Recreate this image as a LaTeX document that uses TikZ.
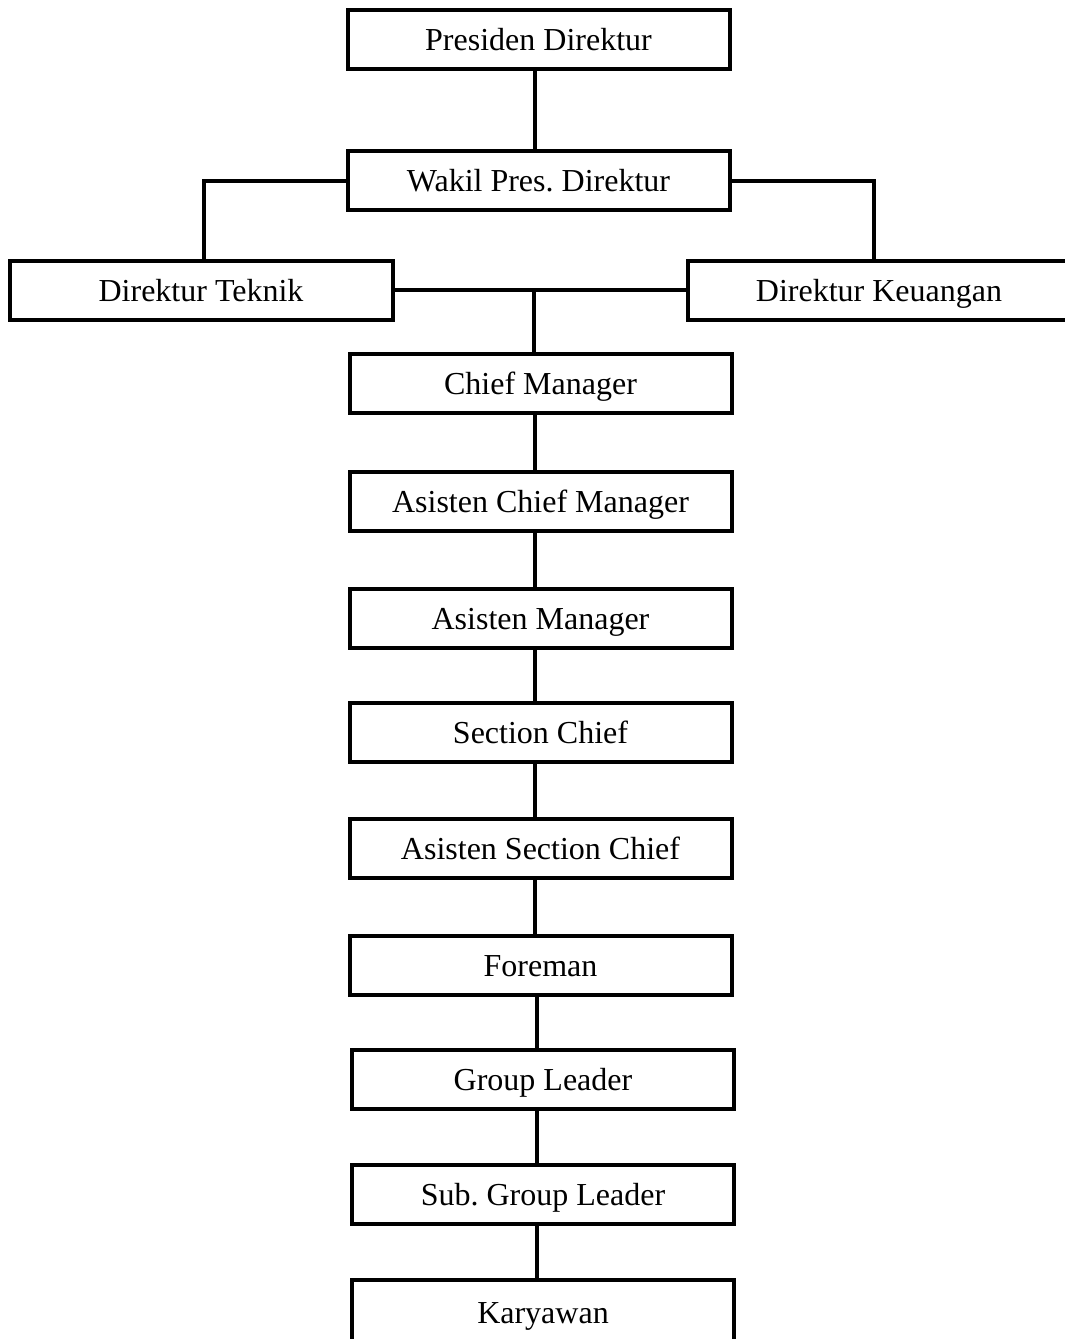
\documentclass[tikz,border=0pt]{standalone}
\usepackage{fontspec}
\setmainfont{Liberation Serif}
\frenchspacing
\begin{document}
\begin{tikzpicture}[x=1pt,y=-1pt,
  box/.style={draw=black, line width=4pt, fill=white, minimum width=382pt, minimum height=59pt, inner sep=0pt, text height=24pt, text depth=2pt, font=\fontsize{32}{38}\selectfont},
  link/.style={line width=4pt}]
\useasboundingbox (0,0) rectangle (1065,1339);
% nodes
\node[box] (pd) at (538.5,39) {Presiden Direktur};
\node[box] (wpd) at (538.5,180.5) {Wakil Pres. Direktur};
\node[box, minimum width=383pt] (dt) at (201,290) {Direktur Teknik};
\node[box, minimum width=383pt] (dk) at (879,290) {Direktur Keuangan};
\node[box] (cm) at (540.5,383.5) {Chief Manager};
\node[box] (acm) at (540.5,501.5) {Asisten Chief Manager};
\node[box] (am) at (540.5,618) {Asisten Manager};
\node[box] (sc) at (540.5,732) {Section Chief};
\node[box] (asc) at (540.5,848.5) {Asisten Section Chief};
\node[box] (fm) at (540.5,965.5) {Foreman};
\node[box] (gl) at (543,1079.5) {Group Leader};
\node[box] (sgl) at (543,1194) {Sub. Group Leader};
\node[box, minimum height=64pt, anchor=north] (kw) at (543,1278) {Karyawan};
% connectors
\draw[link] ([xshift=-3.5pt]pd.south) -- ([xshift=-3.5pt]wpd.north);
\draw[link] (wpd.west) -| ([xshift=3pt]dt.north);
\draw[link] (wpd.east) -| ([xshift=-5pt]dk.north);
\draw[link] (dt.east) -- (dk.west);
\coordinate (j) at ([xshift=-7pt]cm.north |- dt.east);
\draw[link] (j) -- ([xshift=-7pt]cm.north);
\draw[link] ([xshift=-6pt]cm.south) -- ([xshift=-6pt]acm.north);
\draw[link] ([xshift=-6pt]acm.south) -- ([xshift=-6pt]am.north);
\draw[link] ([xshift=-6pt]am.south) -- ([xshift=-6pt]sc.north);
\draw[link] ([xshift=-6pt]sc.south) -- ([xshift=-6pt]asc.north);
\draw[link] ([xshift=-6pt]asc.south) -- ([xshift=-6pt]fm.north);
\draw[link] ([xshift=-4pt]fm.south) -- ([xshift=-6.5pt]gl.north);
\draw[link] ([xshift=-6.5pt]gl.south) -- ([xshift=-6.5pt]sgl.north);
\draw[link] ([xshift=-6.5pt]sgl.south) -- ([xshift=-6.5pt]kw.north);
\end{tikzpicture}
\end{document}
